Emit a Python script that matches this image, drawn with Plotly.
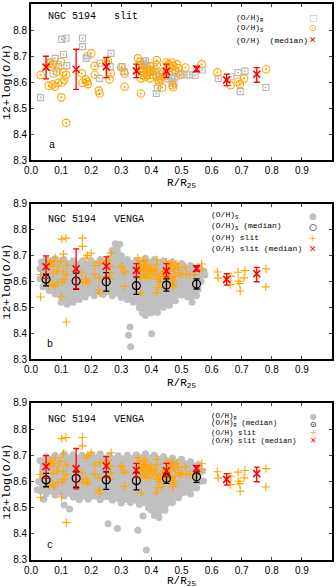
import plotly.graph_objects as go
from plotly.subplots import make_subplots

# ---------------- data ----------------
# slit regions: (O/H)_S values (orange circles)
r_S = [0.032, 0.059, 0.062, 0.065, 0.072, 0.073, 0.079, 0.087, 0.090, 0.099, 0.101, 0.104,
       0.107, 0.110, 0.117, 0.117, 0.169, 0.171, 0.182, 0.186, 0.189, 0.200, 0.212, 0.212,
       0.225, 0.228, 0.249, 0.256, 0.261, 0.265, 0.300, 0.311, 0.311,
       0.355, 0.362, 0.360, 0.368, 0.372, 0.375, 0.365, 0.385, 0.390, 0.385, 0.395, 0.400,
       0.405, 0.412, 0.418, 0.418, 0.422, 0.426, 0.436, 0.450, 0.456, 0.462, 0.468, 0.472,
       0.478, 0.485, 0.490, 0.470, 0.472, 0.365, 0.380, 0.398, 0.440, 0.445, 0.430,
       0.495, 0.513, 0.567, 0.619, 0.663, 0.689, 0.694, 0.708, 0.781]
oh_S = [8.627, 8.585, 8.672, 8.659, 8.590, 8.668, 8.582, 8.640, 8.597, 8.678, 8.541, 8.598,
        8.637, 8.608, 8.627, 8.443, 8.633, 8.597, 8.610, 8.601, 8.592, 8.710, 8.662, 8.628,
        8.567, 8.556, 8.678, 8.682, 8.610, 8.633, 8.656, 8.633, 8.582,
        8.691, 8.678, 8.665, 8.652, 8.640, 8.627, 8.614, 8.652, 8.640, 8.627, 8.614, 8.640,
        8.627, 8.646, 8.665, 8.684, 8.608, 8.600, 8.579, 8.675, 8.668, 8.655, 8.675, 8.662,
        8.646, 8.668, 8.653, 8.588, 8.580, 8.556, 8.620, 8.660, 8.640, 8.625, 8.610,
        8.627, 8.656, 8.668, 8.637, 8.588, 8.601, 8.592, 8.614, 8.649]

# slit regions: (O/H)_R values (grey squares)
r_R = [0.032, 0.065, 0.080, 0.074, 0.102, 0.116, 0.108, 0.091, 0.119, 0.171, 0.171, 0.183,
       0.187, 0.229, 0.227, 0.266, 0.263, 0.303, 0.310, 0.374, 0.377, 0.360, 0.416, 0.420,
       0.468, 0.470, 0.518, 0.569, 0.622, 0.664, 0.688, 0.695, 0.711, 0.780,
       0.385, 0.395, 0.408, 0.415, 0.425, 0.438, 0.448, 0.455, 0.478, 0.490, 0.502, 0.528,
       0.545, 0.380, 0.372, 0.462, 0.475]
oh_R = [8.540, 8.678, 8.691, 8.631, 8.764, 8.768, 8.706, 8.659, 8.663, 8.768, 8.736, 8.691,
        8.700, 8.672, 8.614, 8.710, 8.659, 8.659, 8.640, 8.678, 8.665, 8.649, 8.556, 8.576,
        8.614, 8.601, 8.627, 8.646, 8.614, 8.620, 8.636, 8.563, 8.642, 8.579,
        8.660, 8.648, 8.640, 8.627, 8.620, 8.632, 8.625, 8.612, 8.620, 8.635, 8.630, 8.628,
        8.625, 8.682, 8.650, 8.640, 8.595]

# slit medians
r_med = [0.05, 0.15, 0.25, 0.35, 0.45, 0.55, 0.65, 0.75]
oh_med = [8.657, 8.649, 8.659, 8.643, 8.641, 8.650, 8.608, 8.630]
oh_med_hi = [8.699, 8.726, 8.695, 8.669, 8.669, 8.661, 8.630, 8.655]
oh_med_lo = [8.612, 8.572, 8.617, 8.617, 8.618, 8.640, 8.586, 8.599]

# VENGA medians, (O/H)_S  (panel b)
r_vmed = [0.05, 0.15, 0.25, 0.35, 0.45, 0.55]
oh_vS = [8.609, 8.602, 8.599, 8.584, 8.586, 8.590]
oh_vS_hi = [8.628, 8.632, 8.634, 8.617, 8.610, 8.610]
oh_vS_lo = [8.583, 8.570, 8.563, 8.550, 8.563, 8.571]
# VENGA medians, (O/H)_R  (panel c)
oh_vR = [8.606, 8.612, 8.606, 8.603, 8.612, 8.618]
oh_vR_hi = [8.631, 8.637, 8.637, 8.634, 8.631, 8.637]
oh_vR_lo = [8.580, 8.578, 8.570, 8.568, 8.593, 8.597]

# VENGA spaxel cloud outline + isolated spaxels, (O/H)_S  (panel b)
cloudS_r = [0.030, 0.035, 0.050, 0.080, 0.110, 0.140, 0.170, 0.200, 0.230, 0.260, 0.270,
            0.280, 0.295, 0.300, 0.320, 0.350, 0.380, 0.410, 0.440, 0.470, 0.500, 0.530,
            0.555, 0.575, 0.578, 0.565, 0.555, 0.550, 0.535, 0.520, 0.500, 0.480, 0.460,
            0.440, 0.420, 0.400, 0.380, 0.370, 0.360, 0.340, 0.320, 0.300, 0.270, 0.240,
            0.210, 0.180, 0.160, 0.140, 0.120, 0.100, 0.080, 0.060, 0.040, 0.030]
cloudS_oh = [8.650, 8.675, 8.685, 8.688, 8.685, 8.680, 8.678, 8.680, 8.685, 8.690, 8.720,
             8.746, 8.744, 8.700, 8.685, 8.680, 8.690, 8.685, 8.680, 8.675, 8.670, 8.662,
             8.655, 8.640, 8.625, 8.600, 8.570, 8.545, 8.520, 8.540, 8.548, 8.525, 8.508,
             8.500, 8.480, 8.490, 8.468, 8.478, 8.498, 8.520, 8.530, 8.538, 8.545, 8.550,
             8.545, 8.540, 8.530, 8.520, 8.512, 8.520, 8.552, 8.565, 8.580, 8.610]
dotsS_r = [0.329, 0.324, 0.331, 0.401, 0.399, 0.573]
dotsS_oh = [8.424, 8.392, 8.347, 8.398, 8.478, 8.636]

# VENGA spaxel cloud outline + isolated spaxels, (O/H)_R  (panel c)
cloudR_r = [0.025, 0.030, 0.050, 0.080, 0.110, 0.140, 0.170, 0.200, 0.230, 0.260, 0.290,
            0.320, 0.350, 0.380, 0.410, 0.440, 0.470, 0.500, 0.530, 0.555, 0.570, 0.560,
            0.550, 0.530, 0.490, 0.470, 0.445, 0.425, 0.410, 0.390, 0.360, 0.330, 0.300,
            0.270, 0.230, 0.190, 0.160, 0.140, 0.110, 0.080, 0.050, 0.030]
cloudR_oh = [8.600, 8.680, 8.695, 8.700, 8.705, 8.702, 8.700, 8.703, 8.705, 8.700, 8.698,
             8.700, 8.702, 8.706, 8.700, 8.695, 8.690, 8.685, 8.675, 8.665, 8.640, 8.600,
             8.575, 8.552, 8.538, 8.520, 8.490, 8.462, 8.470, 8.500, 8.512, 8.520, 8.518,
             8.528, 8.530, 8.532, 8.530, 8.540, 8.545, 8.548, 8.552, 8.565]
dotsR_r = [0.043, 0.110, 0.128, 0.256, 0.287, 0.355, 0.383, 0.400, 0.372, 0.573, 0.021]
dotsR_oh = [8.532, 8.510, 8.495, 8.439, 8.420, 8.414, 8.338, 8.490, 8.468, 8.602, 8.568]

x_ticks = [0.0, 0.1, 0.2, 0.3, 0.4, 0.5, 0.6, 0.7, 0.8, 0.9, 1.0]
y_ticks = [8.3, 8.4, 8.5, 8.6, 8.7, 8.8, 8.9]

# ---------------- styling ----------------
ORANGE = "#ffa500"
GREY = "#c0c0c0"
SQGREY = "#b8b8b8"
RED = "#ff0000"
MONO = "Liberation Mono, DejaVu Sans Mono, monospace"
SANS = "Liberation Sans, Arial, sans-serif"
SYM = "DejaVu Sans, sans-serif"

fig = make_subplots(rows=3, cols=1)

def err(center, hi, lo):
    return dict(type="data", symmetric=False,
                array=[h - c for h, c in zip(hi, center)],
                arrayminus=[c - l for c, l in zip(center, lo)])

def red_medians(row):
    e = err(oh_med, oh_med_hi, oh_med_lo)
    e.update(color=RED, thickness=1.3, width=3)
    fig.add_trace(go.Scatter(x=r_med, y=oh_med, mode="markers", error_y=e,
                             marker=dict(symbol="x-thin", size=7,
                                         line=dict(color=RED, width=1.6)),
                             showlegend=False), row=row, col=1)

# ---- panel a ----
fig.add_trace(go.Scatter(x=r_R, y=oh_R, mode="markers",
                         marker=dict(symbol="square-open-dot", size=6,
                                     color=SQGREY, line=dict(color=SQGREY, width=1.1)),
                         showlegend=False), row=1, col=1)
fig.add_trace(go.Scatter(x=r_S, y=oh_S, mode="markers",
                         marker=dict(symbol="circle-open-dot", size=7.5,
                                     color=ORANGE, line=dict(color=ORANGE, width=1.1)),
                         showlegend=False), row=1, col=1)
red_medians(1)

slit_r = r_S + r_R
slit_oh = oh_S + oh_R

def venga_panel(row, cr, coh, dr, doh, vm, vhi, vlo, sym):
    fig.add_trace(go.Scatter(x=cr, y=coh, mode="lines+markers", fill="toself",
                             fillcolor=GREY, line=dict(width=0, color=GREY),
                             marker=dict(size=7, color=GREY),
                             showlegend=False), row=row, col=1)
    fig.add_trace(go.Scatter(x=dr, y=doh, mode="markers",
                             marker=dict(size=7, color=GREY),
                             showlegend=False), row=row, col=1)
    fig.add_trace(go.Scatter(x=slit_r, y=slit_oh, mode="markers",
                             marker=dict(symbol="cross-thin", size=6,
                                         line=dict(color=ORANGE, width=1.1)),
                             showlegend=False), row=row, col=1)
    e = err(vm, vhi, vlo)
    e.update(color="black", thickness=1.3, width=3)
    fig.add_trace(go.Scatter(x=r_vmed, y=vm, mode="markers", error_y=e,
                             marker=dict(symbol=sym, size=8, color="black",
                                         line=dict(color="black", width=1.2)),
                             showlegend=False), row=row, col=1)
    red_medians(row)

venga_panel(2, cloudS_r, cloudS_oh, dotsS_r, dotsS_oh, oh_vS, oh_vS_hi, oh_vS_lo, "circle-open")
venga_panel(3, cloudR_r, cloudR_oh, dotsR_r, dotsR_oh, oh_vR, oh_vR_hi, oh_vR_lo, "circle-open")

# ---------------- axes ----------------
domains = [[0.7194, 1.0], [0.3615, 0.6403], [0.0, 0.2824]]
for i in range(3):
    sfx = "" if i == 0 else str(i + 1)
    fig.layout["xaxis" + sfx].update(
        range=[0, 1], tickvals=x_ticks, ticktext=[f"{v:.1f}" for v in x_ticks],
        ticks="inside", ticklen=3, tickwidth=1, mirror="ticks", showline=True,
        linewidth=1.6, linecolor="black", showgrid=False, zeroline=False,
        tickfont=dict(family=SANS, size=10, color="black"),
        automargin=False)
    fig.layout["yaxis" + sfx].update(
        range=[8.3, 8.9], domain=domains[i], tickvals=y_ticks,
        ticktext=[f"{v:.1f}" for v in y_ticks],
        ticks="inside", ticklen=3, tickwidth=1, mirror="ticks", showline=True,
        linewidth=1.6, linecolor="black", showgrid=False, zeroline=False,
        tickfont=dict(family=SANS, size=10, color="black"),
        title=dict(text="12+log(O/H)", standoff=2,
                   font=dict(family=MONO, size=11.5, color="black")),
        automargin=False)

# ---------------- text ----------------
ann = []
def txt(ref, x, y, s, size=10, font=MONO, color="black", xanchor="left"):
    sfx = "" if ref == 1 else str(ref)
    ann.append(dict(xref=f"x{sfx} domain", yref=f"y{sfx} domain", x=x, y=y, text=s,
                    showarrow=False, xanchor=xanchor, yanchor="middle",
                    font=dict(family=font, size=size, color=color)))

# x-axis titles (placed as annotations so they sit exactly below each panel)
for ref, yy in [(1, -0.150), (2, -0.155), (3, -0.136)]:
    txt(ref, 0.5, yy, "R/R<sub>25</sub>", size=11, xanchor="center")

txt(1, 0.050, 0.920, "NGC 5194   slit")
txt(2, 0.050, 0.897, "NGC 5194   VENGA")
txt(3, 0.050, 0.892, "NGC 5194   VENGA")
txt(1, 0.052, 0.090, "a")
txt(2, 0.046, 0.095, "b")
txt(3, 0.046, 0.095, "c")

# legends panel a
la_y = [0.908, 0.844, 0.769]
la_t = ["(O/H)<sub>R</sub>", "(O/H)<sub>S</sub>", "(O/H)  (median)"]
la_s = [("□", SQGREY, 9), ("⊙", ORANGE, 9), ("✕", RED, 9)]
for y, t, (s, c, fs) in zip(la_y, la_t, la_s):
    txt(1, 0.675, y, t, size=8)
    txt(1, 0.937, y, s, size=fs, font=SYM, color=c, xanchor="center")

lb_y = [0.925, 0.854, 0.783, 0.710]
lb_t = ["(O/H)<sub>S</sub>", "(O/H)<sub>S</sub> (median)", "(O/H) slit", "(O/H) slit (median)"]
lb_s = [("●", GREY, 9), ("○", "black", 9), ("+", ORANGE, 9), ("✕", RED, 9)]
for y, t, (s, c, fs) in zip(lb_y, lb_t, lb_s):
    txt(2, 0.592, y, t, size=8)
    txt(2, 0.937, y, s, size=fs, font=SYM, color=c, xanchor="center")

lc_y = [0.913, 0.865, 0.811, 0.760]
lc_t = ["(O/H)<sub>R</sub>", "(O/H)<sub>R</sub> (median)", "(O/H) slit", "(O/H) slit (median)"]
lc_s = [("●", GREY, 8), ("⊙", "black", 8), ("+", ORANGE, 8), ("✕", RED, 8)]
for y, t, (s, c, fs) in zip(lc_y, lc_t, lc_s):
    txt(3, 0.592, y, t, size=7.5)
    txt(3, 0.937, y, s, size=fs, font=SYM, color=c, xanchor="center")

fig.update_layout(
    template="none",
    width=336, height=587,
    margin=dict(l=31, r=4, t=4, b=27, pad=0),
    paper_bgcolor="white", plot_bgcolor="white",
    showlegend=False,
    annotations=ann,
)

fig.write_html("out.html",
               config={"displayModeBar": False},
               post_script="document.documentElement.style.margin='0';"
                           "document.documentElement.style.overflow='hidden';"
                           "document.body.style.margin='0';"
                           "document.body.style.overflow='hidden';")
